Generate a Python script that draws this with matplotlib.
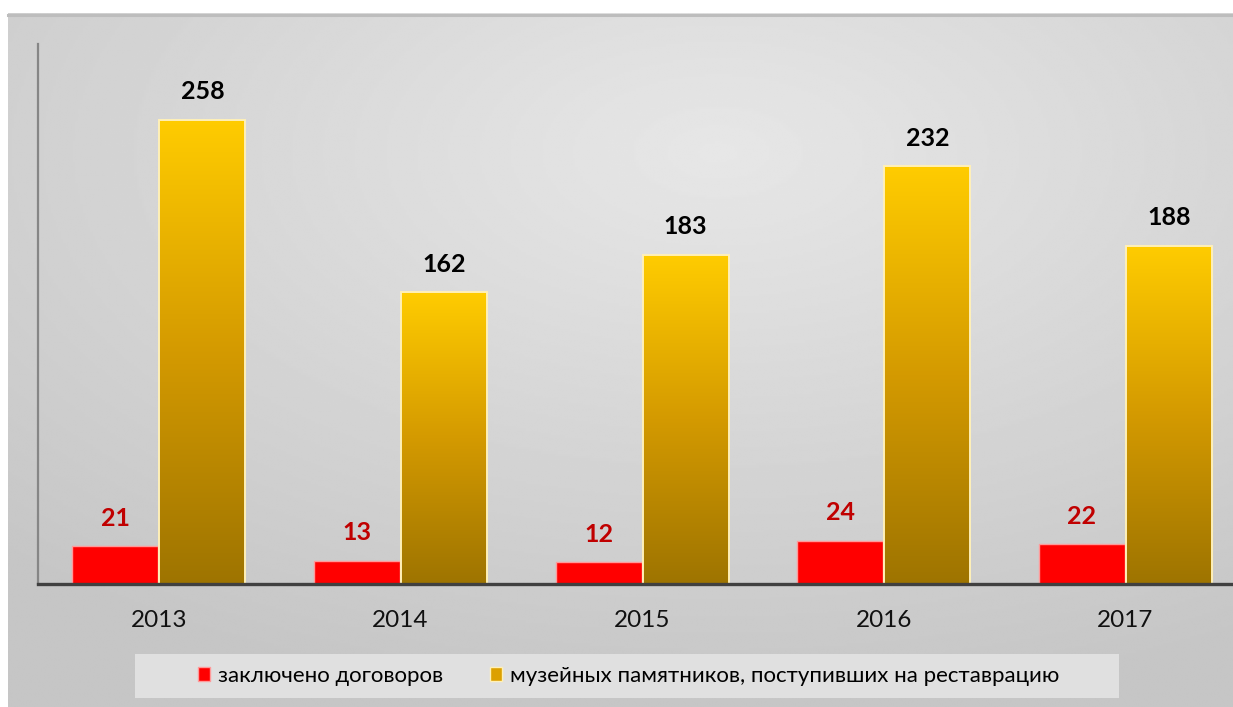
import numpy as np
import matplotlib
matplotlib.use("Agg")
import matplotlib.pyplot as plt
from matplotlib.colors import LinearSegmentedColormap
from matplotlib.patches import Rectangle

plt.rcParams['font.family'] = ['Lato', 'DejaVu Sans']

years = ['2013', '2014', '2015', '2016', '2017']
contracts = [21, 13, 12, 24, 22]
items = [258, 162, 183, 232, 188]
labels = ['заключено договоров', 'музейных памятников, поступивших на реставрацию']

W, H = 1233, 707
fig = plt.figure(figsize=(W / 100, H / 100), dpi=100)
fig.patch.set_facecolor('white')

# background panel, soft gradient: light near the top middle, darker at the edges
bg = fig.add_axes([8 / W, 0, 1 - 8 / W, (H - 13) / H])
yy, xx = np.mgrid[0:1:300j, 0:1:500j]
r = np.sqrt(((xx - 0.58) / 1.0) ** 2 + ((yy - 0.8) / 0.95) ** 2)
shade = 0.905 - 0.13 * np.clip(r / 0.85, 0, 1)
bg.imshow(shade, cmap='gray', vmin=0, vmax=1, extent=[0, 1, 0, 1],
          origin='lower', aspect='auto', interpolation='bilinear')
bg.axis('off')
fig.add_artist(plt.Line2D([8 / W, 1], [(H - 14.5) / H] * 2, color='#bdbdbd', lw=2.2))

# legend box
fig.add_artist(Rectangle((135 / W, (H - 698) / H), (1119 - 135) / W, 44 / H,
                         transform=fig.transFigure, facecolor='#e0e0e0',
                         edgecolor='none'))

ax = fig.add_axes([38 / W, 123 / H, (W - 38) / W, 540 / H])
ax.set_facecolor('none')

x = np.arange(len(years))
bw = 0.355
off = 0.18
red_bars = ax.bar(x - off, contracts, bw, color='#ff0000', edgecolor='#ff9a9a',
                  linewidth=1.0, zorder=2)
gold_bars = ax.bar(x + off, items, bw, color='#e0a800', edgecolor='#fff0b8',
                   linewidth=1.4, zorder=2)

gold_cmap = LinearSegmentedColormap.from_list('gold', ['#9e7400', '#d49a00', '#ffcc00'])
grad = np.linspace(0, 1, 256).reshape(-1, 1)
for p in gold_bars:
    x0, y0 = p.get_x(), p.get_y()
    im = ax.imshow(grad, cmap=gold_cmap, origin='lower', aspect='auto',
                   extent=[x0, x0 + p.get_width(), y0, y0 + p.get_height()],
                   zorder=2.1, interpolation='bilinear')
    im.set_clip_path(p)
    p.set_facecolor('none')
    p.set_zorder(2.2)

for xi, v in zip(x, contracts):
    ax.text(xi - off, v + 15.5, str(v), ha='center', va='center', fontsize=18,
            fontweight='bold', color='#c00000')
for xi, v in zip(x, items):
    ax.text(xi + off, v + 15.5, str(v), ha='center', va='center', fontsize=18,
            fontweight='bold', color='black')

ax.set_xlim(-0.5, 4.445)
ax.set_ylim(0, 300)
ax.set_xticks(x)
ax.set_xticklabels(years, fontsize=17.5, color='#111111')
ax.tick_params(axis='x', length=0, pad=19)
ax.set_yticks([])
for s in ['top', 'right']:
    ax.spines[s].set_visible(False)
ax.spines['left'].set_color('#868686')
ax.spines['left'].set_linewidth(1.6)
ax.spines['bottom'].set_color('#404040')
ax.spines['bottom'].set_linewidth(2.4)

handles = [Rectangle((0, 0), 1, 1, facecolor='#ff0000', edgecolor='#ff9a9a'),
           Rectangle((0, 0), 1, 1, facecolor='#dca000', edgecolor='#fff0b8')]
fig.legend(handles, labels, loc='center', bbox_to_anchor=(629 / W, (H - 676) / H),
           ncol=2, frameon=False, fontsize=16, handlelength=0.55, handleheight=0.6,
           handletextpad=0.36, columnspacing=2.1, borderpad=0)

fig.savefig('out.png', dpi=100)
